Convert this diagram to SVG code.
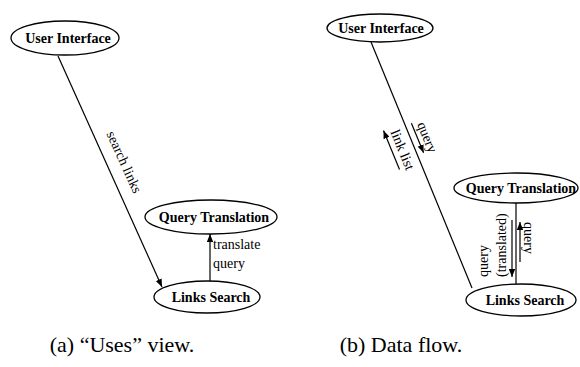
<svg xmlns="http://www.w3.org/2000/svg" width="580" height="367" viewBox="0 0 580 367">
<defs>
<style>
.node ellipse{fill:#fff;stroke:#000;stroke-width:1.3}
.node text{font-weight:bold;font-size:14px;text-anchor:middle;fill:#000}
.edges line{stroke:#000;stroke-width:1.2}
.lbl{font-size:14px;fill:#000}
.cap{font-size:22px;fill:#000;text-anchor:middle}
</style>
<marker id="ah" viewBox="0 0 10 8" refX="10" refY="4" markerWidth="8" markerHeight="6.4" markerUnits="userSpaceOnUse" orient="auto">
<path d="M0,0 L10,4 L0,8 Z" fill="#000"/>
</marker>
</defs>
<rect width="580" height="367" fill="#fff"/>
<g class="edges">
<line x1="58" y1="56" x2="162" y2="287" marker-end="url(#ah)"/>
<line x1="210" y1="281" x2="210" y2="234" marker-end="url(#ah)"/>
<line x1="371" y1="42" x2="472" y2="288"/>
<line x1="516" y1="203" x2="516" y2="284"/>
<line x1="411.4" y1="123.2" x2="423.6" y2="152.8" marker-end="url(#ah)"/>
<line x1="399.5" y1="169.4" x2="383.5" y2="130.6" marker-end="url(#ah)"/>
<line x1="512" y1="220" x2="512" y2="277" marker-end="url(#ah)"/>
<line x1="520" y1="262" x2="520" y2="222" marker-end="url(#ah)"/>
</g>
<g id="labels" font-family="'Liberation Serif', 'Times New Roman', 'DejaVu Serif', serif">
<text class="lbl" text-anchor="middle" transform="translate(120,164) rotate(65.5)">search links</text>
<text class="lbl" x="213" y="249">translate</text>
<text class="lbl" x="213" y="268">query</text>
<text class="lbl" text-anchor="middle" transform="translate(423,139) rotate(67.7)">query</text>
<text class="lbl" text-anchor="middle" transform="translate(398.3,151.5) rotate(67.7)">link list</text>
<text class="lbl" transform="translate(488,277) rotate(-90)">query</text>
<text class="lbl" transform="translate(506,277) rotate(-90)">(translated)</text>
<text class="lbl" transform="translate(524,222) rotate(90)">query</text>
</g>
<g font-family="'Liberation Serif', 'Times New Roman', 'DejaVu Serif', serif">
<g id="ui1" class="node"><ellipse cx="65" cy="38" rx="54" ry="17"/><text x="68" y="43">User Interface</text></g>
<g id="qt1" class="node"><ellipse cx="211" cy="217" rx="66" ry="17"/><text x="214" y="222">Query Translation</text></g>
<g id="ls1" class="node"><ellipse cx="207" cy="297" rx="53" ry="16"/><text x="211" y="302">Links Search</text></g>
<g id="ui2" class="node"><ellipse cx="380" cy="28" rx="53" ry="14"/><text x="381" y="33">User Interface</text></g>
<g id="qt2" class="node"><ellipse cx="516" cy="188" rx="62" ry="15"/><text x="521" y="193">Query Translation</text></g>
<g id="ls2" class="node"><ellipse cx="521" cy="300" rx="55" ry="16"/><text x="525" y="305">Links Search</text></g>
<text class="cap" x="122" y="352">(a) “Uses” view.</text>
<text class="cap" x="401" y="352">(b) Data flow.</text>
</g>
</svg>
